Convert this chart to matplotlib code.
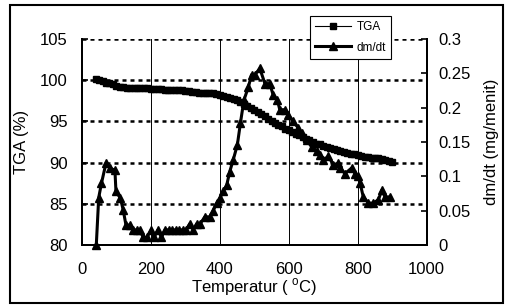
import matplotlib
matplotlib.use("Agg")
import matplotlib.pyplot as plt
from matplotlib.patches import Rectangle
from matplotlib.lines import Line2D

# ==============================
# DATA
# ==============================
temp_tga = [40, 50, 60, 70, 80, 90, 100, 110, 120, 130, 140, 150, 160, 170, 180, 190,
            200, 210, 220, 230, 240, 250, 260, 270, 280, 290, 300, 310, 320, 330, 340,
            350, 360, 370, 380, 390, 400, 410, 420, 430, 440, 450, 460, 470, 480, 490,
            500, 510, 520, 530, 540, 550, 560, 570, 580, 590, 600, 610, 620, 630, 640,
            650, 660, 670, 680, 690, 700, 710, 720, 730, 740, 750, 760, 770, 780, 790,
            800, 810, 820, 830, 840, 850, 860, 870, 880, 890, 900]
tga = [100.1, 100.0, 99.9, 99.7, 99.6, 99.5, 99.3, 99.2, 99.2, 99.1, 99.0, 99.0, 99.0,
       99.0, 99.0, 99.0, 98.9, 98.9, 98.9, 98.9, 98.8, 98.8, 98.8, 98.8, 98.8, 98.8,
       98.7, 98.7, 98.6, 98.6, 98.5, 98.5, 98.5, 98.4, 98.4, 98.3, 98.2, 98.1, 98.0,
       97.8, 97.7, 97.6, 97.3, 97.1, 96.9, 96.6, 96.4, 96.1, 95.9, 95.6, 95.3, 95.1,
       94.8, 94.6, 94.4, 94.1, 93.9, 93.7, 93.5, 93.3, 93.1, 92.9, 92.7, 92.5, 92.3,
       92.2, 92.0, 91.9, 91.8, 91.6, 91.5, 91.4, 91.3, 91.2, 91.1, 91.0, 90.9, 90.8,
       90.7, 90.7, 90.6, 90.5, 90.5, 90.4, 90.3, 90.2, 90.1]

temp_dm = [42, 49, 57, 70, 81, 96, 99, 112, 120, 128, 139, 149, 159, 168, 178, 188,
           202, 209, 221, 231, 241, 252, 262, 272, 282, 292, 302, 313, 323, 333, 343,
           357, 371, 381, 391, 400, 410, 420, 429, 439, 451, 460, 470, 483, 492, 502,
           516, 531, 545, 555, 567, 574, 589, 599, 613, 628, 637, 652, 666, 681, 690,
           700, 715, 729, 744, 749, 763, 782, 792, 802, 807, 816, 831, 845, 860, 870,
           879, 894]
dmdt = [0.0, 0.069, 0.09, 0.119, 0.112, 0.109, 0.078, 0.068, 0.051, 0.029, 0.029,
        0.022, 0.022, 0.022, 0.011, 0.011, 0.022, 0.011, 0.022, 0.011, 0.022, 0.022,
        0.022, 0.022, 0.022, 0.022, 0.022, 0.031, 0.022, 0.031, 0.031, 0.041, 0.041,
        0.05, 0.061, 0.068, 0.078, 0.087, 0.107, 0.124, 0.146, 0.178, 0.211, 0.23,
        0.248, 0.248, 0.257, 0.235, 0.235, 0.218, 0.211, 0.197, 0.197, 0.189, 0.18,
        0.17, 0.163, 0.153, 0.143, 0.137, 0.131, 0.124, 0.129, 0.117, 0.119, 0.112,
        0.104, 0.112, 0.104, 0.1, 0.09, 0.07, 0.061, 0.061, 0.066, 0.08, 0.07, 0.07]

x_ticks = [0, 200, 400, 600, 800, 1000]
y_ticks = [80, 85, 90, 95, 100, 105]
y2_ticks = [0, 0.05, 0.1, 0.15, 0.2, 0.25, 0.3]
y2_labels = ["0", "0.05", "0.1", "0.15", "0.2", "0.25", "0.3"]

# ==============================
# STYLE
# ==============================
plt.rcParams["font.family"] = ["Liberation Sans", "DejaVu Sans"]
plt.rcParams["mathtext.fontset"] = "custom"
plt.rcParams["mathtext.rm"] = "Liberation Sans"
FS = 12

fig = plt.figure(figsize=(5.05, 3.08), dpi=100)
ax = fig.add_axes([0.162, 0.2045, 0.683, 0.669])
ax2 = ax.twinx()

# ==============================
# GRID
# ==============================
for yv in y_ticks[1:]:
    ax.axhline(yv, color="black", lw=1.8, ls=(0, (1.6, 1.6)), zorder=1)
for xv in x_ticks[1:-1]:
    ax.axvline(xv, color="black", lw=0.7, zorder=1)

# ==============================
# CURVES
# ==============================
ax.plot(temp_tga, tga, color="black", lw=0.8, marker="s", ms=4.5, zorder=3)
ax2.plot(temp_dm, dmdt, color="black", lw=2.2, marker="^", ms=6, zorder=3,
         clip_on=False)

ax.set_xlim(0, 1000)
ax.set_ylim(80, 105)
ax2.set_ylim(0, 0.3)
ax.set_xticks(x_ticks)
ax.set_yticks(y_ticks)
ax2.set_yticks(y2_ticks)
ax2.set_yticklabels(y2_labels)

ax.tick_params(axis="y", direction="in", length=4, width=1.2, pad=10, labelsize=FS)
ax2.tick_params(axis="y", direction="in", length=4, width=1.2, pad=8.6, labelsize=FS)
ax.tick_params(axis="x", length=0, pad=12, labelsize=FS)

for a in (ax, ax2):
    a.spines["top"].set_visible(False)
    for s in ("left", "right", "bottom"):
        a.spines[s].set_linewidth(1.4)

ax.set_xlabel(r"Temperatur ( $^{\mathregular{o}}$C)", fontsize=FS, labelpad=0)
ax.set_ylabel("TGA (%)", fontsize=FS, labelpad=8)
ax2.set_ylabel("dm/dt (mg/menit)", fontsize=FS, labelpad=9)

# ==============================
# LEGEND
# ==============================
handles = [Line2D([], [], color="black", lw=0.8, marker="s", ms=4.5),
           Line2D([], [], color="black", lw=2.2, marker="^", ms=6)]
leg = fig.legend(handles, ["TGA", "dm/dt"], loc="upper left",
                 bbox_to_anchor=(0.614, 0.948), fontsize=8.5, frameon=True,
                 fancybox=False, framealpha=1, edgecolor="black",
                 handlelength=3.0, handletextpad=0.5, borderpad=0.45,
                 labelspacing=0.7, borderaxespad=0)
leg.get_frame().set_linewidth(0.8)
leg.set_zorder(10)

# outer frame
fig.patches.append(Rectangle((10 / 505, 5 / 308), 493 / 505, 298 / 308,
                             transform=fig.transFigure, fill=False,
                             edgecolor="black", lw=1.5))

fig.savefig("out.png", dpi=100)
